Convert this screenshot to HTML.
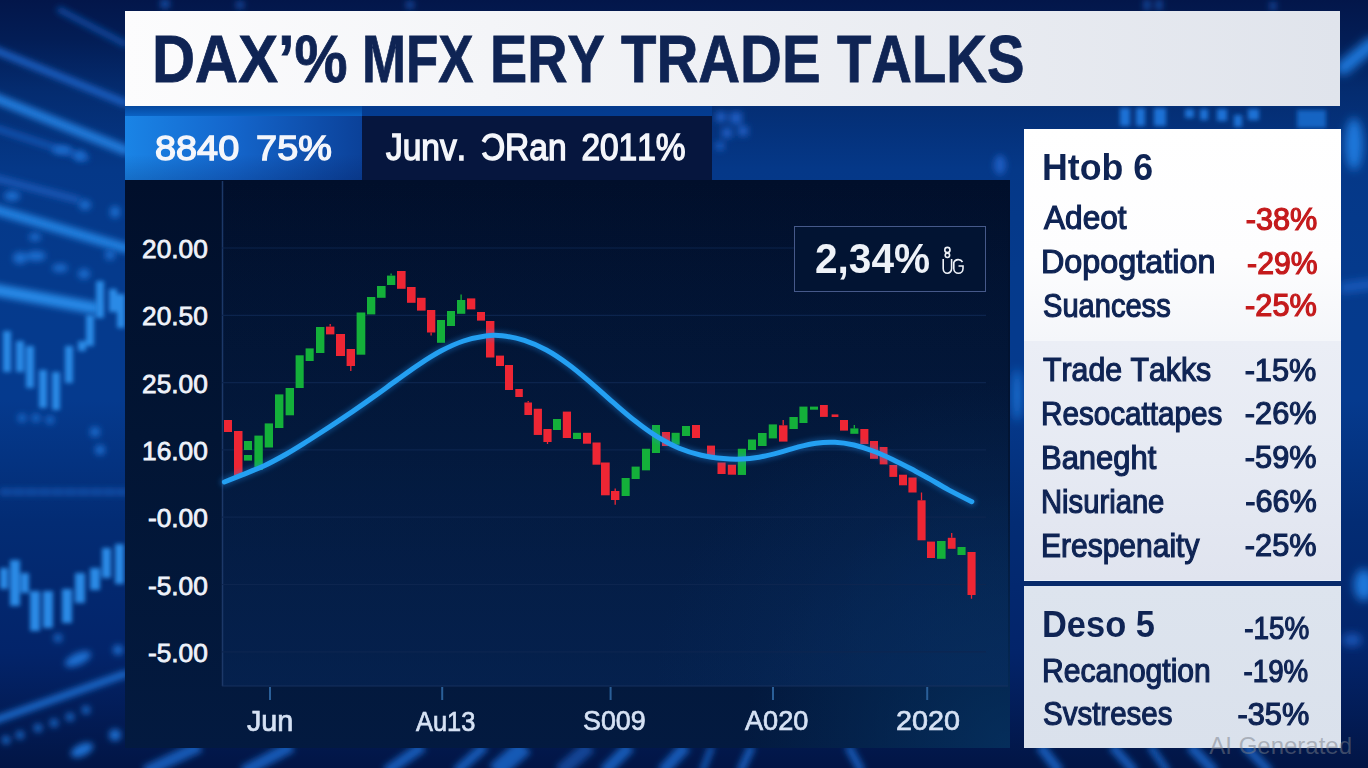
<!DOCTYPE html>
<html><head><meta charset="utf-8">
<style>
*{margin:0;padding:0;box-sizing:border-box}
html,body{width:1368px;height:768px;overflow:hidden}
body{font-kerning:none;font-variant-ligatures:none;position:relative;background:#0b2a78;font-family:"Liberation Sans",sans-serif;line-height:1.149}
.abs{position:absolute}
svg{position:absolute;left:0;top:0}
#title{left:125px;top:11px;width:1215px;height:95px;background:linear-gradient(90deg,#fcfcfd 0%,#f4f5f8 30%,#e0e4ec 100%)}
.tw{position:absolute;line-height:1;font-weight:bold;color:#0f2454;white-space:nowrap;-webkit-text-stroke:0.8px #0f2454;transform-origin:0 0}
#title span{position:absolute;left:27px;top:10px;font-weight:bold;font-size:67px;color:#0f2454;white-space:nowrap;transform:scaleX(0.857);transform-origin:0 0;line-height:normal;-webkit-text-stroke:0.6px #0f2454}
#sb1{left:125px;top:116px;width:237px;height:64px;background:linear-gradient(180deg,rgba(0,10,60,0) 60%,rgba(0,10,60,0.18) 100%),linear-gradient(90deg,#1a84e6 0%,#1466cc 45%,#0b4199 100%)}
#sb2{left:362px;top:116px;width:350px;height:64px;background:#06163e}
.sbt{position:absolute;line-height:1;color:#f4f6fb;white-space:nowrap;-webkit-text-stroke:1.4px #f4f6fb;transform-origin:0 0}
#chart{left:125px;top:180px;width:885px;height:568px;background:radial-gradient(ellipse 30% 45% at 100% 100%,rgba(6,52,100,0.75),rgba(6,52,100,0) 100%),linear-gradient(180deg,#010f2b 0%,#021534 45%,#031a40 100%)}
#plot{left:222px;top:181px;width:786px;height:505px;background:radial-gradient(ellipse 45% 60% at 100% 100%,rgba(8,48,98,0.6),rgba(8,48,98,0) 100%),linear-gradient(180deg,rgba(6,36,84,0) 0%,rgba(6,36,84,0.25) 50%,rgba(6,36,84,0.7) 100%)}
.yl{position:absolute;line-height:1;color:#eef2fa;white-space:nowrap;-webkit-text-stroke:0.8px #eef2fa;transform-origin:100% 0}
.xl{position:absolute;line-height:1;color:#d6e2f4;white-space:nowrap;-webkit-text-stroke:0.7px #d6e2f4;transform-origin:0 0}
#rp1{left:1024px;top:129px;width:317px;height:212px;background:linear-gradient(180deg,#ffffff 0%,#fdfdfe 60%,#f4f6fa 100%)}
#rp2{left:1024px;top:341px;width:317px;height:239px;background:linear-gradient(180deg,#ebeef6 0%,#e6eaf3 50%,#e0e4ef 100%)}
#rpl{left:1024px;top:580px;width:317px;height:6px;background:#072a6a;border-top:1px solid #e8f0fa}
#rp3{left:1024px;top:586px;width:317px;height:162px;background:linear-gradient(180deg,#dde4ee 0%,#dae1ec 100%)}
.rt{position:absolute;line-height:1;color:#0f2454;white-space:nowrap;-webkit-text-stroke:1.2px #0f2454;transform-origin:0 0}
.rv{position:absolute;line-height:1;color:#0f2454;white-space:nowrap;-webkit-text-stroke:1.2px #0f2454;transform-origin:100% 0}
.rv.red{color:#c41a1c;-webkit-text-stroke:1.2px #c41a1c}
.hb{font-weight:bold}
#ht{position:absolute;left:1043px;font-size:38px;color:#0e2352}
#box{left:794px;top:226px;width:192px;height:66px;border:1.5px solid #46598a;background:#021433}
#boxt{position:absolute;left:815.4px;top:237.8px;font-size:42px;line-height:1;font-weight:bold;color:#eef2f8;white-space:nowrap;transform:scaleX(0.966);transform-origin:0 0}
#ai{position:absolute;left:1209.3px;top:733.7px;font-size:24px;line-height:1;color:rgba(120,126,136,0.5);white-space:nowrap}
#aiw{position:absolute;left:1024px;top:586px;width:317px;height:162px;overflow:hidden}
</style></head><body>
<svg width="1368" height="768" viewBox="0 0 1368 768">
<defs>
<filter id="b4"><feGaussianBlur stdDeviation="4"/></filter>
<radialGradient id="g1" cx="0.5" cy="0.5" r="0.7"><stop offset="0" stop-color="#1450b8"/><stop offset="1" stop-color="#071c58"/></radialGradient>
</defs>
<rect width="1368" height="768" fill="url(#g1)"/>
<defs>
<linearGradient id="lv" x1="0" y1="0" x2="0" y2="1">
<stop offset="0" stop-color="#03164a"/>
<stop offset="0.05" stop-color="#031d55"/>
<stop offset="0.12" stop-color="#042c70"/>
<stop offset="0.22" stop-color="#053888"/>
<stop offset="0.35" stop-color="#053a8c"/>
<stop offset="0.52" stop-color="#053a8e"/>
<stop offset="0.68" stop-color="#032c74"/>
<stop offset="0.85" stop-color="#03246a"/>
<stop offset="1" stop-color="#021545"/>
</linearGradient>
<filter id="bl3" x="-20%" y="-20%" width="140%" height="140%"><feGaussianBlur stdDeviation="3"/></filter>
<filter id="bl2" x="-20%" y="-20%" width="140%" height="140%"><feGaussianBlur stdDeviation="2"/></filter>
<filter id="bl5" x="-30%" y="-30%" width="160%" height="160%"><feGaussianBlur stdDeviation="5"/></filter>
<filter id="bl8" x="-50%" y="-50%" width="200%" height="200%"><feGaussianBlur stdDeviation="8"/></filter>
</defs>
<rect width="1368" height="768" fill="url(#lv)"/>
<!-- left strip streaks (down-right) -->
<g filter="url(#bl3)" stroke-linecap="round" fill="none">
<line x1="-10" y1="48" x2="125" y2="103" stroke="#1a62c6" stroke-width="7"/>
<line x1="-10" y1="96" x2="125" y2="150" stroke="#207ada" stroke-width="10"/>
<line x1="60" y1="10" x2="125" y2="44" stroke="#0f4aa0" stroke-width="6"/>
<line x1="-5" y1="128" x2="86" y2="158" stroke="#1756b6" stroke-width="6"/>
<line x1="-5" y1="178" x2="78" y2="200" stroke="#1a5cbc" stroke-width="6"/>
<line x1="-10" y1="208" x2="125" y2="248" stroke="#2080e0" stroke-width="10"/>
<line x1="-10" y1="289" x2="94" y2="308" stroke="#2888e6" stroke-width="12"/>
<line x1="-10" y1="722" x2="125" y2="674" stroke="#1a6ed2" stroke-width="7"/>
<line x1="2" y1="492" x2="125" y2="492" stroke="#1a60c0" stroke-width="6" stroke-dasharray="7 6" stroke-opacity="0.75"/>
</g>
<g filter="url(#bl3)" fill="#1e6ed0">
<ellipse cx="12" cy="196" rx="8" ry="5"/>
<ellipse cx="62" cy="150" rx="10" ry="4"/>
<ellipse cx="80" cy="156" rx="6" ry="5"/>
<ellipse cx="36" cy="256" rx="10" ry="5"/>
<ellipse cx="85" cy="205" rx="6" ry="5"/>
<ellipse cx="115" cy="212" rx="5" ry="6"/>
<ellipse cx="35" cy="237" rx="6" ry="4"/>
<ellipse cx="20" cy="258" rx="7" ry="6"/>
<ellipse cx="60" cy="268" rx="8" ry="4"/>
<ellipse cx="84" cy="274" rx="6" ry="5"/>
<ellipse cx="110" cy="255" rx="5" ry="5"/>
</g>
<g filter="url(#bl2)" fill="#2c8ae6">
<rect x="3" y="331" width="8" height="41"/>
<rect x="16" y="341" width="8" height="31"/>
<rect x="26" y="346" width="8" height="42"/>
<rect x="39" y="370" width="8" height="38"/>
<rect x="52" y="372" width="8" height="38"/>
<rect x="65" y="346" width="8" height="37"/>
<rect x="78" y="341" width="8" height="10"/>
<rect x="86" y="315" width="8" height="31"/>
<rect x="96" y="281" width="8" height="37"/>
<rect x="109" y="289" width="8" height="23"/>
<rect x="117" y="294" width="8" height="34"/>
<rect x="0" y="568" width="8" height="21"/>
<rect x="10" y="560" width="10" height="46"/>
<rect x="21" y="573" width="8" height="20"/>
<rect x="30" y="591" width="10" height="40"/>
<rect x="43" y="591" width="10" height="37"/>
<rect x="62" y="589" width="10" height="34"/>
<rect x="75" y="573" width="10" height="30"/>
<rect x="90" y="568" width="10" height="22"/>
<rect x="102" y="548" width="9" height="30"/>
<rect x="115" y="544" width="9" height="40"/>
</g>
<g filter="url(#bl3)" fill="#1f6ed0">
<ellipse cx="78" cy="659" rx="14" ry="6" transform="rotate(-25 78 659)"/>
<ellipse cx="82" cy="750" rx="12" ry="6" transform="rotate(-25 82 750)"/>
<circle cx="6" cy="740" r="4"/><circle cx="20" cy="735" r="4"/><circle cx="38" cy="728" r="4"/><circle cx="54" cy="723" r="4"/><circle cx="70" cy="717" r="4"/><circle cx="86" cy="710" r="4"/>
<circle cx="115" cy="735" r="6"/>
<circle cx="22" cy="418" r="4"/><circle cx="36" cy="418" r="4"/><circle cx="50" cy="420" r="4"/>
<circle cx="95" cy="432" r="5"/><circle cx="100" cy="450" r="5"/>
<circle cx="58" cy="638" r="4"/><circle cx="118" cy="650" r="5"/>
</g>
<!-- right strip -->
<g filter="url(#bl5)" fill="#1f78dc">
<line x1="1343" y1="68" x2="1372" y2="44" stroke="#1f78dc" stroke-width="14" stroke-linecap="round"/>
<ellipse cx="1354" cy="144" rx="9" ry="26"/>
<line x1="1343" y1="288" x2="1372" y2="284" stroke="#1a62c8" stroke-width="8" stroke-linecap="round"/>
<ellipse cx="1364" cy="585" rx="10" ry="16"/>
<ellipse cx="1352" cy="640" rx="10" ry="6" fill="#1a5cc0"/>
<ellipse cx="1017" cy="395" rx="4" ry="26"/>
</g>
<g filter="url(#bl3)" fill="#1a58b8" fill-opacity="0.8">
<circle cx="165" cy="4" r="5"/><circle cx="240" cy="5" r="4"/><circle cx="410" cy="5" r="4"/>
<rect x="1144" y="0" width="6" height="10"/><rect x="1156" y="0" width="6" height="10"/><rect x="1270" y="2" width="6" height="8"/>
</g>
<!-- between title and subbar, right of subbar -->
<g filter="url(#bl2)" fill="#1c72d6">
<rect x="1120" y="108" width="10" height="18"/>
<rect x="1136" y="108" width="9" height="18"/>
<rect x="1154" y="108" width="12" height="18"/>
<rect x="1185" y="109" width="9" height="9"/>
<rect x="1200" y="109" width="8" height="11"/>
<rect x="1217" y="109" width="10" height="12"/>
<rect x="1234" y="115" width="8" height="12"/>
<rect x="1248" y="109" width="11" height="11"/>
<rect x="1297" y="110" width="29" height="18" fill-opacity="0.8"/>
</g>
<g filter="url(#bl3)" fill="#1a5cc0">
<rect x="716" y="112" width="10" height="10"/>
<rect x="730" y="112" width="12" height="12"/>
<rect x="722" y="128" width="10" height="10"/>
<rect x="738" y="126" width="10" height="10"/>
<rect x="716" y="142" width="8" height="8"/>
<ellipse cx="1000" cy="165" rx="6" ry="10"/>
</g>
<!-- bottom strip streaks -->
<g filter="url(#bl3)" stroke-linecap="butt" stroke="#1a64c8" stroke-opacity="0.85">
<line x1="145" y1="772" x2="200" y2="746" stroke-width="12"/>
<line x1="243" y1="772" x2="292" y2="746" stroke-width="12"/>
<line x1="386" y1="772" x2="423" y2="746" stroke-width="11"/>
<line x1="456" y1="772" x2="485" y2="746" stroke-width="10"/>
<line x1="495" y1="772" x2="525" y2="746" stroke-width="18"/>
<line x1="560" y1="772" x2="590" y2="746" stroke-width="14" stroke-opacity="0.6"/>
<line x1="604" y1="772" x2="630" y2="746" stroke-width="12"/>
<line x1="662" y1="772" x2="686" y2="746" stroke-width="12"/>
<line x1="702" y1="772" x2="712" y2="746" stroke-width="6"/>
<line x1="740" y1="772" x2="752" y2="746" stroke-width="8"/>
<line x1="862" y1="772" x2="848" y2="746" stroke-width="8"/>
<line x1="1060" y1="772" x2="1040" y2="746" stroke-width="10"/>
<line x1="1135" y1="772" x2="1112" y2="746" stroke-width="9"/>
<line x1="1168" y1="772" x2="1150" y2="746" stroke-width="7"/>
<line x1="1215" y1="772" x2="1190" y2="746" stroke-width="10"/>
<line x1="1270" y1="772" x2="1245" y2="746" stroke-width="9"/>
</g>

</svg>

<div class="abs" style="left:125px;top:106px;width:237px;height:10px;background:linear-gradient(180deg,#06489e,#0a62c4)"></div><div class="abs" style="left:362px;top:106px;width:350px;height:10px;background:linear-gradient(180deg,#043a8c,#043c90)"></div>
<div id="title" class="abs"></div>
<div class="tw" style="left:152.37px;top:26.27px;font-size:66.5px;transform:scaleX(0.8974)">DAX’%</div>
<div class="tw" style="left:362.18px;top:26.27px;font-size:66.5px;transform:scaleX(0.7948)">MFX</div>
<div class="tw" style="left:490.01px;top:26.27px;font-size:66.5px;transform:scaleX(0.8385)">ERY</div>
<div class="tw" style="left:620.70px;top:26.27px;font-size:66.5px;transform:scaleX(0.8715)">TRADE</div>
<div class="tw" style="left:836.91px;top:26.27px;font-size:66.5px;transform:scaleX(0.8457)">TALKS</div>

<div id="sb1" class="abs"></div>
<div id="sb2" class="abs"></div>
<div class="sbt" style="left:155.10px;top:131.38px;font-size:35.73px;word-spacing:6px;transform:scaleX(1.0597)">8840 75%</div>
<div class="sbt" style="left:386.32px;top:130.24px;font-size:36.19px;word-spacing:6px;transform:scaleX(0.9258)">Junv. ƆRan 2011%</div>


<div id="chart" class="abs"></div><div id="plot" class="abs"></div>
<svg width="1368" height="768" viewBox="0 0 1368 768">
<defs><filter id="cglow" x="-5%" y="-20%" width="110%" height="140%"><feGaussianBlur stdDeviation="2.5"/></filter></defs>
<line x1="222.5" y1="181" x2="222.5" y2="686" stroke="#1c3868" stroke-width="1.5"/>
<line x1="222" y1="686" x2="1008" y2="686" stroke="#16305e" stroke-width="1"/>
<line x1="222" y1="248.0" x2="986" y2="248.0" stroke="#0e2650" stroke-width="1.2" opacity="0.9"/>
<line x1="222" y1="315.3" x2="986" y2="315.3" stroke="#0e2650" stroke-width="1.2" opacity="0.9"/>
<line x1="222" y1="382.6" x2="986" y2="382.6" stroke="#0e2650" stroke-width="1.2" opacity="0.9"/>
<line x1="222" y1="449.9" x2="986" y2="449.9" stroke="#0e2650" stroke-width="1.2" opacity="0.9"/>
<line x1="222" y1="517.2" x2="986" y2="517.2" stroke="#0e2650" stroke-width="1.2" opacity="0.9"/>
<line x1="222" y1="584.5" x2="986" y2="584.5" stroke="#0e2650" stroke-width="1.2" opacity="0.9"/>
<line x1="222" y1="651.8" x2="986" y2="651.8" stroke="#0e2650" stroke-width="1.2" opacity="0.9"/>

<line x1="270" y1="687" x2="270" y2="700" stroke="#2a5f98" stroke-width="2"/>
<line x1="442.2" y1="687" x2="442.2" y2="700" stroke="#2a5f98" stroke-width="2"/>
<line x1="610.6" y1="687" x2="610.6" y2="700" stroke="#2a5f98" stroke-width="2"/>
<line x1="773" y1="687" x2="773" y2="700" stroke="#2a5f98" stroke-width="2"/>
<line x1="927.2" y1="687" x2="927.2" y2="700" stroke="#2a5f98" stroke-width="2"/>

<rect x="224.0" y="420.0" width="8.0" height="12.0" fill="#ee2634"/>
<rect x="234.0" y="431.0" width="8.5" height="44.6" fill="#ee2634"/>
<rect x="244.0" y="441.0" width="8.0" height="9.0" fill="#14b03a"/>
<rect x="244.0" y="455.0" width="8.0" height="5.6" fill="#14b03a"/>
<rect x="254.4" y="435.6" width="8.4" height="34.4" fill="#14b03a"/>
<rect x="264.7" y="423.4" width="8.3" height="24.1" fill="#14b03a"/>
<rect x="275.0" y="394.4" width="8.4" height="33.6" fill="#14b03a"/>
<rect x="285.6" y="388.0" width="8.4" height="27.3" fill="#14b03a"/>
<rect x="295.6" y="355.3" width="8.1" height="32.7" fill="#14b03a"/>
<rect x="305.6" y="348.4" width="8.1" height="12.6" fill="#14b03a"/>
<rect x="316.0" y="327.0" width="8.4" height="26.0" fill="#14b03a"/>
<line x1="330.2" y1="324.0" x2="330.2" y2="326.6" stroke="#ee2634" stroke-width="1.3"/>
<rect x="326.0" y="326.6" width="8.4" height="7.8" fill="#ee2634"/>
<rect x="336.0" y="334.0" width="9.0" height="22.0" fill="#ee2634"/>
<line x1="350.8" y1="366.0" x2="350.8" y2="371.0" stroke="#ee2634" stroke-width="1.3"/>
<rect x="346.6" y="349.0" width="8.4" height="17.0" fill="#ee2634"/>
<rect x="356.6" y="312.5" width="8.7" height="42.2" fill="#14b03a"/>
<rect x="367.0" y="297.0" width="8.3" height="17.4" fill="#14b03a"/>
<rect x="377.0" y="286.0" width="8.6" height="11.8" fill="#14b03a"/>
<line x1="391.1" y1="273.4" x2="391.1" y2="275.6" stroke="#14b03a" stroke-width="1.3"/>
<rect x="387.0" y="275.6" width="8.3" height="9.4" fill="#14b03a"/>
<rect x="397.0" y="271.0" width="8.6" height="17.8" fill="#ee2634"/>
<rect x="407.0" y="287.0" width="8.6" height="15.8" fill="#ee2634"/>
<rect x="417.0" y="297.8" width="8.6" height="12.8" fill="#ee2634"/>
<line x1="431.1" y1="332.5" x2="431.1" y2="335.6" stroke="#ee2634" stroke-width="1.3"/>
<rect x="427.0" y="310.0" width="8.3" height="22.5" fill="#ee2634"/>
<rect x="437.0" y="320.0" width="8.0" height="22.8" fill="#14b03a"/>
<rect x="447.0" y="311.0" width="8.0" height="15.0" fill="#14b03a"/>
<line x1="461.1" y1="294.4" x2="461.1" y2="300.0" stroke="#14b03a" stroke-width="1.3"/>
<rect x="457.0" y="300.0" width="8.3" height="13.8" fill="#14b03a"/>
<rect x="467.0" y="298.4" width="8.3" height="11.0" fill="#ee2634"/>
<rect x="477.0" y="312.0" width="8.0" height="8.6" fill="#ee2634"/>
<rect x="486.0" y="321.0" width="8.4" height="36.5" fill="#ee2634"/>
<rect x="496.0" y="355.6" width="8.0" height="10.4" fill="#ee2634"/>
<rect x="505.0" y="365.0" width="8.0" height="25.0" fill="#ee2634"/>
<rect x="515.3" y="389.0" width="7.5" height="8.0" fill="#ee2634"/>
<line x1="528.2" y1="401.0" x2="528.2" y2="402.5" stroke="#ee2634" stroke-width="1.3"/>
<rect x="524.4" y="402.5" width="7.6" height="12.5" fill="#ee2634"/>
<rect x="533.75" y="408.75" width="8.2" height="26.2" fill="#ee2634"/>
<line x1="547.5" y1="442.0" x2="547.5" y2="444.0" stroke="#ee2634" stroke-width="1.3"/>
<rect x="543.4" y="429.0" width="8.2" height="13.0" fill="#ee2634"/>
<rect x="553.0" y="419.0" width="8.0" height="11.0" fill="#14b03a"/>
<rect x="562.8" y="411.6" width="8.2" height="26.4" fill="#ee2634"/>
<rect x="573.0" y="432.8" width="8.0" height="6.2" fill="#14b03a"/>
<rect x="583.0" y="432.8" width="8.0" height="10.9" fill="#ee2634"/>
<rect x="592.5" y="442.5" width="8.1" height="22.2" fill="#ee2634"/>
<rect x="601.0" y="462.5" width="8.7" height="32.8" fill="#ee2634"/>
<line x1="615.2" y1="488.4" x2="615.2" y2="491.0" stroke="#ee2634" stroke-width="1.3"/>
<line x1="615.2" y1="500.0" x2="615.2" y2="504.7" stroke="#ee2634" stroke-width="1.3"/>
<rect x="611.0" y="491.0" width="8.4" height="9.0" fill="#ee2634"/>
<rect x="621.6" y="478.0" width="8.1" height="18.0" fill="#14b03a"/>
<rect x="631.6" y="466.6" width="8.1" height="12.4" fill="#14b03a"/>
<rect x="642.0" y="448.75" width="8.0" height="21.6" fill="#14b03a"/>
<rect x="652.0" y="425.0" width="8.0" height="28.0" fill="#14b03a"/>
<rect x="662.0" y="432.0" width="8.0" height="14.0" fill="#ee2634"/>
<rect x="671.6" y="432.8" width="8.1" height="11.9" fill="#14b03a"/>
<rect x="682.0" y="426.0" width="8.0" height="10.0" fill="#14b03a"/>
<rect x="692.0" y="425.0" width="8.0" height="13.0" fill="#ee2634"/>
<rect x="707.0" y="445.6" width="8.0" height="13.1" fill="#ee2634"/>
<rect x="717.5" y="462.5" width="8.1" height="11.5" fill="#ee2634"/>
<rect x="727.8" y="464.7" width="8.2" height="10.0" fill="#ee2634"/>
<rect x="737.8" y="448.75" width="8.2" height="26.2" fill="#14b03a"/>
<rect x="748.0" y="439.5" width="8.0" height="10.5" fill="#14b03a"/>
<rect x="758.0" y="433.0" width="8.6" height="13.0" fill="#14b03a"/>
<rect x="768.75" y="424.4" width="8.2" height="14.0" fill="#14b03a"/>
<line x1="783.2" y1="420.0" x2="783.2" y2="425.3" stroke="#ee2634" stroke-width="1.3"/>
<rect x="779.0" y="425.3" width="8.5" height="16.3" fill="#ee2634"/>
<rect x="789.4" y="417.0" width="8.4" height="12.0" fill="#14b03a"/>
<rect x="799.4" y="406.6" width="8.1" height="16.4" fill="#14b03a"/>
<rect x="810.0" y="406.6" width="8.0" height="3.1" fill="#14b03a"/>
<rect x="820.0" y="405.0" width="7.8" height="11.9" fill="#ee2634"/>
<rect x="831.6" y="414.4" width="6.8" height="2.6" fill="#ee2634"/>
<rect x="840.0" y="420.0" width="8.0" height="10.6" fill="#ee2634"/>
<line x1="854.3" y1="425.0" x2="854.3" y2="428.4" stroke="#14b03a" stroke-width="1.3"/>
<rect x="850.3" y="428.4" width="8.1" height="5.4" fill="#14b03a"/>
<rect x="860.3" y="429.0" width="8.1" height="15.0" fill="#ee2634"/>
<rect x="870.0" y="441.0" width="8.0" height="17.8" fill="#ee2634"/>
<rect x="879.7" y="447.0" width="7.8" height="17.4" fill="#ee2634"/>
<rect x="889.4" y="465.0" width="7.8" height="11.9" fill="#ee2634"/>
<rect x="899.0" y="474.7" width="8.0" height="10.6" fill="#ee2634"/>
<rect x="908.4" y="477.5" width="8.2" height="15.0" fill="#ee2634"/>
<line x1="921.5" y1="492.5" x2="921.5" y2="500.3" stroke="#ee2634" stroke-width="1.3"/>
<rect x="917.5" y="500.3" width="8.1" height="40.0" fill="#ee2634"/>
<rect x="927.0" y="541.6" width="8.0" height="16.4" fill="#ee2634"/>
<rect x="937.0" y="541.0" width="8.6" height="17.8" fill="#14b03a"/>
<line x1="951.7" y1="533.0" x2="951.7" y2="537.8" stroke="#ee2634" stroke-width="1.3"/>
<rect x="947.8" y="537.8" width="7.8" height="11.0" fill="#ee2634"/>
<rect x="957.5" y="547.0" width="8.1" height="8.0" fill="#14b03a"/>
<line x1="971.5" y1="595.0" x2="971.5" y2="598.75" stroke="#ee2634" stroke-width="1.3"/>
<rect x="967.5" y="552.0" width="8.1" height="43.0" fill="#ee2634"/>
<path d="M224.4,482.0 C227.3,480.8 235.4,477.6 242.1,474.9 C248.8,472.2 256.9,469.2 264.3,465.7 C271.7,462.3 279.0,458.2 286.4,454.0 C293.8,449.8 301.1,445.1 308.5,440.5 C315.9,435.8 323.3,431.0 330.7,426.2 C338.1,421.3 345.4,416.4 352.8,411.4 C360.2,406.3 367.5,401.2 374.9,395.9 C382.3,390.7 389.7,385.1 397.1,379.9 C404.5,374.6 411.8,369.1 419.2,364.3 C426.6,359.4 433.9,354.7 441.3,350.8 C448.7,346.9 456.1,343.5 463.5,341.0 C470.9,338.5 479.2,336.8 485.6,335.9 C492.0,335.1 495.7,335.0 502.1,335.8 C508.6,336.5 516.9,338.1 524.3,340.4 C531.7,342.8 539.0,346.0 546.4,350.0 C553.8,354.0 561.1,359.0 568.5,364.5 C575.9,369.9 583.3,376.3 590.7,382.6 C598.1,388.9 605.4,395.8 612.8,402.2 C620.2,408.5 627.5,415.1 634.9,420.8 C642.3,426.6 649.7,432.1 657.1,436.7 C664.5,441.2 671.8,445.2 679.2,448.3 C686.6,451.4 693.9,453.6 701.3,455.3 C708.7,457.0 716.7,458.0 723.5,458.6 C730.3,459.3 736.1,459.4 742.0,459.1 C747.9,458.9 753.0,458.2 759.0,457.2 C765.0,456.1 771.7,454.4 778.0,452.8 C784.3,451.1 790.7,448.9 797.0,447.3 C803.3,445.7 809.7,444.0 816.0,443.2 C822.3,442.3 828.7,442.0 835.0,442.3 C841.3,442.6 847.7,443.6 854.0,445.0 C860.3,446.5 866.7,448.6 873.0,451.0 C879.3,453.3 885.7,456.2 892.0,459.2 C898.3,462.2 904.7,465.5 911.0,468.8 C917.3,472.2 923.7,475.6 930.0,479.1 C936.3,482.7 942.0,486.3 949.0,490.1 C956.0,493.8 968.0,499.8 971.8,501.7" fill="none" stroke="#1e8ae8" stroke-width="9" stroke-linecap="round" opacity="0.35" filter="url(#cglow)"/>
<path d="M224.4,482.0 C227.3,480.8 235.4,477.6 242.1,474.9 C248.8,472.2 256.9,469.2 264.3,465.7 C271.7,462.3 279.0,458.2 286.4,454.0 C293.8,449.8 301.1,445.1 308.5,440.5 C315.9,435.8 323.3,431.0 330.7,426.2 C338.1,421.3 345.4,416.4 352.8,411.4 C360.2,406.3 367.5,401.2 374.9,395.9 C382.3,390.7 389.7,385.1 397.1,379.9 C404.5,374.6 411.8,369.1 419.2,364.3 C426.6,359.4 433.9,354.7 441.3,350.8 C448.7,346.9 456.1,343.5 463.5,341.0 C470.9,338.5 479.2,336.8 485.6,335.9 C492.0,335.1 495.7,335.0 502.1,335.8 C508.6,336.5 516.9,338.1 524.3,340.4 C531.7,342.8 539.0,346.0 546.4,350.0 C553.8,354.0 561.1,359.0 568.5,364.5 C575.9,369.9 583.3,376.3 590.7,382.6 C598.1,388.9 605.4,395.8 612.8,402.2 C620.2,408.5 627.5,415.1 634.9,420.8 C642.3,426.6 649.7,432.1 657.1,436.7 C664.5,441.2 671.8,445.2 679.2,448.3 C686.6,451.4 693.9,453.6 701.3,455.3 C708.7,457.0 716.7,458.0 723.5,458.6 C730.3,459.3 736.1,459.4 742.0,459.1 C747.9,458.9 753.0,458.2 759.0,457.2 C765.0,456.1 771.7,454.4 778.0,452.8 C784.3,451.1 790.7,448.9 797.0,447.3 C803.3,445.7 809.7,444.0 816.0,443.2 C822.3,442.3 828.7,442.0 835.0,442.3 C841.3,442.6 847.7,443.6 854.0,445.0 C860.3,446.5 866.7,448.6 873.0,451.0 C879.3,453.3 885.7,456.2 892.0,459.2 C898.3,462.2 904.7,465.5 911.0,468.8 C917.3,472.2 923.7,475.6 930.0,479.1 C936.3,482.7 942.0,486.3 949.0,490.1 C956.0,493.8 968.0,499.8 971.8,501.7" fill="none" stroke="#24a0f2" stroke-width="5" stroke-linecap="round"/>
</svg>
<div class="yl" style="right:1160.17px;top:235.70px;font-size:26.3px">20.00</div>
<div class="yl" style="right:1160.17px;top:303.10px;font-size:26.3px">20.50</div>
<div class="yl" style="right:1160.17px;top:370.50px;font-size:26.3px">25.00</div>
<div class="yl" style="right:1160.17px;top:437.90px;font-size:26.3px">16.00</div>
<div class="yl" style="right:1160.17px;top:505.30px;font-size:26.3px">-0.00</div>
<div class="yl" style="right:1160.17px;top:572.70px;font-size:26.3px">-5.00</div>
<div class="yl" style="right:1160.17px;top:640.10px;font-size:26.3px">-5.00</div>

<div class="xl" style="left:246.90px;top:706.54px;font-size:29.09px;transform:scaleX(0.9887)">Jun</div>
<div class="xl" style="left:415.67px;top:707.51px;font-size:27.97px;transform:scaleX(0.9084)">Au13</div>
<div class="xl" style="left:582.62px;top:707.48px;font-size:28.11px;transform:scaleX(0.9540)">S009</div>
<div class="xl" style="left:745.29px;top:707.48px;font-size:28.11px;transform:scaleX(0.9664)">A020</div>
<div class="xl" style="left:896.21px;top:707.48px;font-size:28.11px;transform:scaleX(1.0212)">2020</div>

<div id="box" class="abs"></div>
<div id="boxt">2,34%</div>
<svg width="1368" height="768" viewBox="0 0 1368 768"><g fill="none" stroke="#eef2f8" stroke-width="1.6">
<path d="M943.2,259 V268.5 A4.2,4.8 0 0 0 951.6,268.5 V259"/>
<circle cx="947.4" cy="250" r="2.6"/><circle cx="947.4" cy="255.3" r="2.2"/>
<path d="M962.5,262 A4.7,4.2 0 0 0 953.8,262.5 V268.5 A4.6,4.8 0 0 0 963,268.5 V266 H958.5"/>
</g></svg>

<div id="rp1" class="abs"></div>
<div id="rp2" class="abs"></div>
<div id="rpl" class="abs"></div>
<div id="rp3" class="abs"></div>
<div class="rt" style="left:1041.91px;top:148.92px;font-size:37.50px;transform:scaleX(0.9522);font-weight:bold;-webkit-text-stroke-width:0px;">Htob 6</div>
<div class="rt" style="left:1044.02px;top:202.28px;font-size:32.50px;transform:scaleX(0.9729);">Adeot</div>
<div class="rt" style="left:1041.44px;top:245.78px;font-size:32.50px;transform:scaleX(0.9954);">Dopogtation</div>
<div class="rt" style="left:1043.02px;top:289.88px;font-size:32.50px;transform:scaleX(0.8947);">Suancess</div>
<div class="rt" style="left:1042.88px;top:354.23px;font-size:32.50px;transform:scaleX(0.9316);">Trade Takks</div>
<div class="rt" style="left:1041.11px;top:397.98px;font-size:32.50px;transform:scaleX(0.9129);">Resocattapes</div>
<div class="rt" style="left:1041.03px;top:441.98px;font-size:32.50px;transform:scaleX(0.9516);">Baneght</div>
<div class="rt" style="left:1041.14px;top:485.77px;font-size:32.50px;transform:scaleX(0.8986);">Nisuriane</div>
<div class="rt" style="left:1041.09px;top:529.58px;font-size:32.50px;transform:scaleX(0.9230);">Erespenaity</div>
<div class="rt" style="left:1041.50px;top:606.62px;font-size:36.80px;transform:scaleX(0.9352);font-weight:bold;-webkit-text-stroke-width:0px;">Deso 5</div>
<div class="rt" style="left:1041.89px;top:654.58px;font-size:32.50px;transform:scaleX(0.9250);">Recanogtion</div>
<div class="rt" style="left:1043.00px;top:697.58px;font-size:32.50px;transform:scaleX(0.9077);">Svstreses</div>
<div class="rv red" style="right:51.31px;top:204.17px;font-size:30.51px;transform:scaleX(1.0046);">-38%</div>
<div class="rv red" style="right:50.82px;top:247.85px;font-size:30.65px;transform:scaleX(0.9844);">-29%</div>
<div class="rv red" style="right:51.00px;top:291.23px;font-size:30.79px;transform:scaleX(0.9984);">-25%</div>
<div class="rv" style="right:51.49px;top:354.50px;font-size:31.41px;transform:scaleX(0.9777);">-15%</div>
<div class="rv" style="right:51.50px;top:398.48px;font-size:31.07px;transform:scaleX(0.9881);">-26%</div>
<div class="rv" style="right:51.50px;top:442.48px;font-size:31.07px;transform:scaleX(0.9881);">-59%</div>
<div class="rv" style="right:51.50px;top:486.16px;font-size:31.21px;transform:scaleX(0.9837);">-66%</div>
<div class="rv" style="right:51.50px;top:530.18px;font-size:31.07px;transform:scaleX(0.9881);">-25%</div>
<div class="rv" style="right:58.55px;top:612.56px;font-size:30.98px;transform:scaleX(0.9008);">-15%</div>
<div class="rv" style="right:59.56px;top:655.97px;font-size:30.51px;transform:scaleX(0.9089);">-19%</div>
<div class="rv" style="right:58.51px;top:699.47px;font-size:30.51px;transform:scaleX(1.0075);">-35%</div>

<div id="ai">AI Generated</div>
</body></html>
